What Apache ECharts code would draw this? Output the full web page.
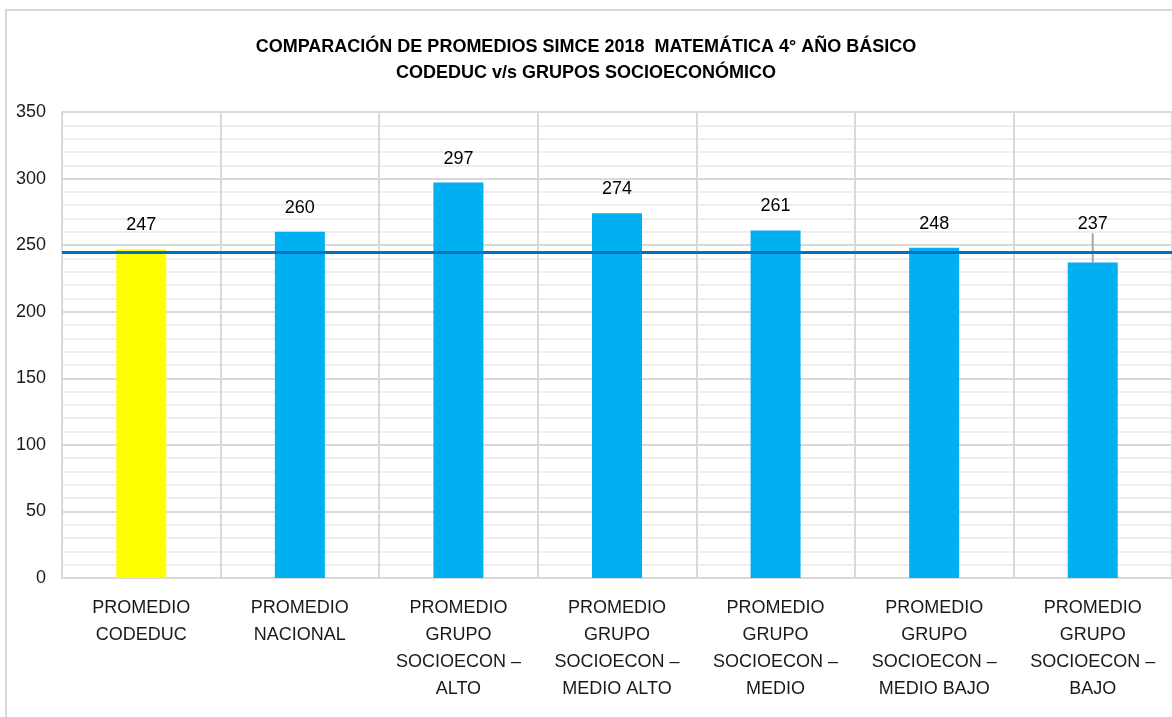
<!DOCTYPE html>
<html>
<head>
<meta charset="utf-8">
<script src="https://cdn.jsdelivr.net/npm/echarts@6/dist/echarts.min.js"></script>
<style>
  html, body { margin: 0; padding: 0; background: #fff; }
  #chart { width: 1172px; height: 717px; position: absolute; left: 0; top: 0; }
  #frame { position: absolute; left: 5px; top: 9px; width: 1300px; height: 900px;
           border: 2px solid #d9d9d9; pointer-events: none; }
</style>
</head>
<body>
<div id="chart"></div>
<div id="frame"></div>
<script>
// datos del grafico
var categorias = [
  'PROMEDIO\nCODEDUC',
  'PROMEDIO\nNACIONAL',
  'PROMEDIO\nGRUPO\nSOCIOECON –\nALTO',
  'PROMEDIO\nGRUPO\nSOCIOECON –\nMEDIO ALTO',
  'PROMEDIO\nGRUPO\nSOCIOECON –\nMEDIO',
  'PROMEDIO\nGRUPO\nSOCIOECON –\nMEDIO BAJO',
  'PROMEDIO\nGRUPO\nSOCIOECON –\nBAJO'
];
var promedios = [247, 260, 297, 274, 261, 248, 237];
var colores = ['#FFFF00', '#00B0F0', '#00B0F0', '#00B0F0', '#00B0F0', '#00B0F0', '#00B0F0'];
var lineaReferencia = 245;
var titulo = 'COMPARACIÓN DE PROMEDIOS SIMCE 2018  MATEMÁTICA 4° AÑO BÁSICO\nCODEDUC v/s GRUPOS SOCIOECONÓMICO';

var myChart = echarts.init(document.getElementById('chart'));
var txt = '#1a1a1a';

var option = {
  animation: false,
  title: {
    text: titulo,
    left: 'center',
    top: 29,
    textStyle: {
      fontFamily: 'Liberation Sans',
      fontWeight: 'bold',
      fontSize: 18,
      lineHeight: 26,
      color: '#000'
    }
  },
  grid: {
    left: 62,
    top: 112,
    width: 1120,
    height: 466
  },
  xAxis: {
    type: 'category',
    data: categorias,
    axisLine: { show: true, lineStyle: { color: '#d9d9d9', width: 2 } },
    axisTick: { show: false },
    splitLine: { show: true, lineStyle: { color: '#d9d9d9', width: 2 } },
    axisLabel: {
      interval: 0,
      margin: 17,
      fontFamily: 'Liberation Sans',
      fontSize: 18,
      lineHeight: 27,
      color: txt
    }
  },
  yAxis: {
    type: 'value',
    min: 0,
    max: 350,
    interval: 50,
    minorTick: { show: false, splitNumber: 5 },
    minorSplitLine: { show: true, lineStyle: { color: '#eeeeee', width: 2 } },
    splitLine: { show: true, lineStyle: { color: '#d9d9d9', width: 2 } },
    axisLine: { show: true, lineStyle: { color: '#d9d9d9', width: 2 } },
    axisTick: { show: false },
    axisLabel: {
      margin: 16,
      fontFamily: 'Liberation Sans',
      fontSize: 18,
      color: txt
    }
  },
  series: [{
    type: 'bar',
    barWidth: 50,
    data: promedios.map(function (v, i) {
      var d = { value: v, itemStyle: { color: colores[i] } };
      // la ultima etiqueta va desplazada con linea guia
      if (i === 6) d.labelLine = { show: true };
      return d;
    }),
    label: {
      show: true,
      position: 'top',
      distance: 15,
      fontFamily: 'Liberation Sans',
      fontSize: 18,
      color: '#000'
    },
    labelLayout: function (params) {
      if (params.dataIndex === 6) return { dy: -14 };
    },
    labelLine: { show: false, lineStyle: { color: '#a6a6a6', width: 2 } },
    markLine: {
      silent: true,
      symbol: 'none',
      label: { show: false },
      lineStyle: { color: '#0070C0', width: 3, type: 'solid' },
      data: [{ yAxis: lineaReferencia }]
    }
  }]
};
myChart.setOption(option);
</script>
</body>
</html>
